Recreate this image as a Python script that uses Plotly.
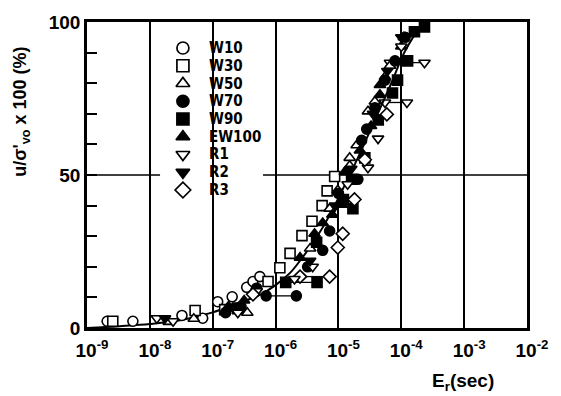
import plotly.graph_objects as go

# ---------------- data ----------------
series_names = ["W10", "W30", "W50", "W70", "W90", "EW100", "R1", "R2", "R3"]

w10_E = [2.09e-9, 5.37e-9, 3.24e-8, 6.92e-8, 1.2e-7, 2.04e-7, 3.47e-7, 4.37e-7, 5.62e-7]
w10_V = [2.2, 2.2, 4.1, 3.2, 8.6, 10.2, 13.3, 15.2, 16.8]

w30_E = [2.57e-9, 5.25e-8, 1.55e-7, 7.59e-7, 1.17e-6, 1.70e-6, 2.63e-6, 3.80e-6, 5.50e-6, 6.61e-6, 8.71e-6]
w30_V = [2.2, 5.7, 6.0, 15.2, 19.7, 24.4, 30.2, 34.9, 40.0, 44.8, 49.5]

w50_E = [2.0e-8, 5.0e-8, 2.51e-7, 3.55e-7, 3.55e-6, 7.24e-6, 9.77e-6, 1.51e-5, 1.51e-5, 1.95e-5, 2.95e-5, 3.8e-5, 5.5e-5, 6.6e-5, 1.1e-4]
w50_V = [2.0, 3.0, 5.5, 5.0, 26.0, 39.0, 45.0, 55.6, 53.0, 59.7, 70.8, 74.0, 82.0, 85.7, 95.0]

w70_E = [3.24e-6, 5.62e-6, 7.24e-6, 1.0e-5, 2.04e-5, 2.34e-5, 2.82e-5, 3.8e-5, 5.50e-5, 7.94e-5, 1.15e-4, 5.01e-7, 2.82e-7, 1.6e-7]
w70_V = [20.0, 25.4, 31.7, 44.0, 48.6, 61.3, 65.0, 72.0, 81.0, 87.3, 95.0, 13.0, 7.0, 5.0]
w70_pair_E = [7.08e-7, 2.14e-6]
w70_pair_V = [10.5, 10.5]

w90_E = [1.62e-5, 2.63e-5, 1.70e-5, 7.24e-5, 8.71e-5, 1.26e-4, 1.62e-4, 2.34e-4, 2.5e-7, 4.5e-6, 1.2e-5, 4.3e-5]
w90_V = [48.6, 55.6, 39.0, 76.8, 81.0, 87.3, 96.8, 98.4, 6.5, 28.0, 42.0, 68.0]
w90_pair_E = [1.45e-6, 4.57e-6]
w90_pair_V = [14.9, 14.9]

ew100_E = [1.12e-5, 5.62e-6, 4.17e-6, 4.57e-5, 4.57e-5, 1.26e-5, 2.2e-5, 3.3e-5, 1.78e-7, 3.16e-7, 2.45e-6, 1.0e-4, 8.0e-6]
ew100_V = [40.3, 34.3, 30.8, 79.4, 76.2, 51.0, 58.0, 66.0, 7.0, 9.0, 23.0, 92.0, 37.0]

r1_E = [3.89e-6, 4.27e-5, 2.95e-5, 1.29e-8, 2.34e-8, 2.51e-7, 5.01e-7, 1.0e-4, 1.4e-5, 2.0e-6]
r1_V = [20.0, 61.9, 52.4, 3.2, 2.2, 5.0, 12.0, 92.0, 47.0, 16.0]
r1_pairA_E = [6.61e-5, 2.34e-4]
r1_pairA_V = [86.7, 86.7]
r1_pairB_E = [5.50e-5, 1.23e-4]
r1_pairB_V = [73.7, 73.7]

r2_E = [1.74e-8, 3.55e-6, 8.91e-6, 3.55e-5, 1.0e-4, 2.04e-7, 1.6e-5, 6.0e-5]
r2_V = [3.2, 22.0, 40.0, 70.0, 95.0, 7.0, 52.0, 84.0]

r3_E = [1.17e-5, 9.77e-6, 5.89e-5, 2.63e-5, 4.37e-7, 1.8e-5]
r3_V = [30.8, 26.3, 69.8, 55.0, 11.0, 42.0]
r3_pair_E = [2.45e-6, 7.24e-6]
r3_pair_V = [16.8, 16.8]

curve_E = [1e-9, 3.31e-9, 1e-8, 3.02e-8, 1e-7, 2.69e-7, 5.62e-7, 1e-6, 1.70e-6, 2.45e-6,
           4.17e-6, 7.24e-6, 1.26e-5, 2.19e-5, 3.80e-5, 6.61e-5, 1.15e-4, 1.95e-4, 2.82e-4]
curve_V = [0, 0.6, 1.3, 2.5, 5.1, 8.3, 10.8, 14, 18, 22, 28.6, 36.8, 46.7, 57, 68, 79, 90.5, 97.8, 100]

x_tickvals = [1e-9, 1e-8, 1e-7, 1e-6, 1e-5, 1e-4, 1e-3, 1e-2]
x_ticktext = ["10<sup>-9</sup>", "10<sup>-8</sup>", "10<sup>-7</sup>", "10<sup>-6</sup>",
              "10<sup>-5</sup>", "10<sup>-4</sup>", "10<sup>-3</sup>", "10<sup>-2</sup>"]
y_tickvals = [0, 50, 100]
y_ticktext = ["0", "50", "100"]
y_minor_tickvals = [10, 20, 30, 40, 60, 70, 80, 90]

# ---------------- styles ----------------
FONT = "Liberation Sans, Arial, sans-serif"
NARROW = "DejaVu Sans Condensed, Liberation Sans, sans-serif"
symbols = {
    "W10": ("circle", "white"),
    "W30": ("square", "white"),
    "W50": ("triangle-up", "white"),
    "W70": ("circle", "black"),
    "W90": ("square", "black"),
    "EW100": ("triangle-up", "black"),
    "R1": ("triangle-down", "white"),
    "R2": ("triangle-down", "black"),
    "R3": ("diamond", "white"),
}
points = {
    "W10": (w10_E, w10_V), "W30": (w30_E, w30_V), "W50": (w50_E, w50_V),
    "W70": (w70_E, w70_V), "W90": (w90_E, w90_V), "EW100": (ew100_E, ew100_V),
    "R1": (r1_E, r1_V), "R2": (r2_E, r2_V), "R3": (r3_E, r3_V),
}
pairs = {
    "W70": [(w70_pair_E, w70_pair_V)],
    "W90": [(w90_pair_E, w90_pair_V)],
    "R1": [(r1_pairA_E, r1_pairA_V), (r1_pairB_E, r1_pairB_V)],
    "R3": [(r3_pair_E, r3_pair_V)],
}

fig = go.Figure()

# connector segments
for name, plist in pairs.items():
    sym, fill = symbols[name]
    for pe, pv in plist:
        fig.add_trace(go.Scatter(x=pe, y=pv, mode="lines+markers", showlegend=False,
                                 line=dict(color="black", width=1.3),
                                 marker=dict(symbol=sym, size=10, color=fill,
                                             line=dict(color="black", width=1.6))))

# fitted curve
fig.add_trace(go.Scatter(x=curve_E, y=curve_V, mode="lines", showlegend=False,
                         line=dict(color="black", width=2, shape="spline")))

for name in series_names:
    sym, fill = symbols[name]
    e, v = points[name]
    fig.add_trace(go.Scatter(x=e, y=v, mode="markers", name=name, showlegend=False,
                             marker=dict(symbol=sym, size=10, color=fill,
                                         line=dict(color="black", width=1.6))))

# legend key (overlay axes in paper-like units)
leg_x_marker = 0.218
leg_x_text = 0.276
leg_y0 = 0.915
leg_dy = 0.058
for i, name in enumerate(series_names):
    sym, fill = symbols[name]
    yy = leg_y0 - i * leg_dy
    fig.add_trace(go.Scatter(x=[leg_x_marker], y=[yy], xaxis="x2", yaxis="y2",
                             mode="markers", showlegend=False, hoverinfo="skip",
                             marker=dict(symbol=sym, size=12, color=fill,
                                         line=dict(color="black", width=1.7))))
    fig.add_annotation(x=leg_x_text, y=yy, xref="paper", yref="paper", text=name,
                       showarrow=False, xanchor="left", yanchor="middle", borderpad=0,
                       font=dict(family=NARROW, size=15, color="black", weight="bold"))

# shapes: 50% line and white area behind the legend
fig.add_shape(type="line", xref="paper", x0=0, x1=1, yref="y", y0=50, y1=50,
              line=dict(color="black", width=1.5), layer="below")
fig.add_shape(type="rect", xref="paper", yref="paper", x0=0.166, x1=0.4,
              y0=0.42, y1=0.955, fillcolor="white", line=dict(width=0), layer="between")

fig.add_annotation(x=-0.148, y=0.706, xref="paper", yref="paper",
                   xanchor="center", yanchor="middle",
                   text="u/σ'<sub>vo</sub> x 100 (%)", textangle=-90, showarrow=False,
                   font=dict(family=FONT, size=18, color="black", weight="bold"))
fig.add_annotation(x=0.855, y=-0.175, xref="paper", yref="paper",
                   xanchor="center", yanchor="middle",
                   text="E<sub>r</sub>(sec)", showarrow=False,
                   font=dict(family=FONT, size=19, color="black", weight="bold"))

fig.update_layout(
    width=561, height=396,
    margin=dict(l=87, r=34, t=15, b=68),
    paper_bgcolor="white", plot_bgcolor="white",
    showlegend=False,
    font=dict(family=FONT, color="black"),
    xaxis=dict(type="log", range=[-9, -2], tickvals=x_tickvals, ticktext=x_ticktext,
               showgrid=True, gridcolor="black", gridwidth=1.5, zeroline=False,
               showline=True, linecolor="black", linewidth=2.5, mirror=True, ticks="",
               ticklabelshift=5, ticklabelstandoff=3,
               tickfont=dict(family=FONT, size=19, color="black", weight="bold")),
    yaxis=dict(range=[0, 100], tickvals=y_tickvals, ticktext=y_ticktext,
               showgrid=False, zeroline=False, showline=True, linecolor="black",
               linewidth=2.5, mirror=True, ticks="inside", ticklen=10, tickwidth=2,
               tickcolor="black",
               minor=dict(tickvals=y_minor_tickvals, ticks="inside", ticklen=10,
                          tickwidth=2, tickcolor="black", showgrid=False),
               tickfont=dict(family=FONT, size=19, color="black", weight="bold")),
    xaxis2=dict(overlaying="x", range=[0, 1], visible=False, fixedrange=True),
    yaxis2=dict(overlaying="y", range=[0, 1], visible=False, fixedrange=True),
)

fig.write_html("out.html")
